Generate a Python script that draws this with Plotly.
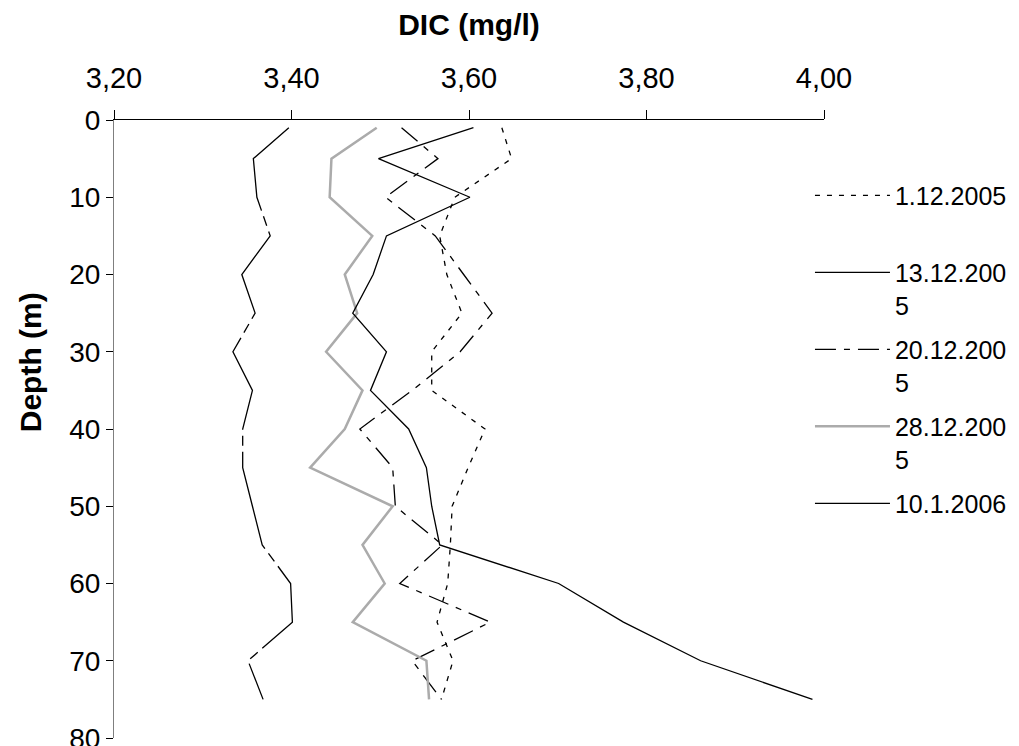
import plotly.graph_objects as go

depth = [1, 5, 10, 15, 20, 25, 30, 35, 40, 45, 50, 55, 60, 65, 70, 75]

dic_01_12_2005 = [3.637, 3.648, 3.584, 3.567, 3.575, 3.592, 3.558, 3.558,
                  3.618, 3.599, 3.581, 3.579, 3.576, 3.564, 3.582, 3.569]
dic_13_12_2005 = [3.397, 3.357, 3.361, 3.376, 3.344, 3.359, 3.334, 3.356,
                  3.345, 3.345, 3.356, 3.367, 3.399, 3.401, 3.351, 3.368]
dic_20_12_2005 = [3.524, 3.565, 3.506, 3.562, 3.594, 3.626, 3.590, 3.536,
                  3.477, 3.514, 3.517, 3.570, 3.522, 3.624, 3.536, 3.569]
dic_28_12_2005 = [3.496, 3.445, 3.443, 3.491, 3.460, 3.474, 3.439, 3.480,
                  3.460, 3.421, 3.514, 3.480, 3.505, 3.469, 3.552, 3.555]
dic_10_01_2006 = [3.605, 3.498, 3.601, 3.507, 3.492, 3.469, 3.507, 3.489,
                  3.532, 3.552, 3.558, 3.567, 3.701, 3.774, 3.861, 3.987]

series_names = ["1.12.2005\u00a0<br>\u00a0", "13.12.200<br>5", "20.12.200<br>5",
                "28.12.200<br>5", "10.1.2006"]
x_ticks = [3.2, 3.4, 3.6, 3.8, 4.0]
y_ticks = [0, 10, 20, 30, 40, 50, 60, 70, 80]

FONT = "Liberation Sans, Arial, sans-serif"

styles = [
    dict(color="black", width=1.3, dash="5px,7px"),
    dict(color="black", width=1.3, dash="100px,6px,10px,6px"),
    dict(color="black", width=1.3, dash="21px,8px,6px,8px"),
    dict(color="#ababab", width=2.5, dash="solid"),
    dict(color="black", width=1.3, dash="solid"),
]
series = [dic_01_12_2005, dic_13_12_2005, dic_20_12_2005, dic_28_12_2005, dic_10_01_2006]

fig = go.Figure()
for i, (name, vals, st) in enumerate(zip(series_names, series, styles)):
    fig.add_trace(go.Scatter(
        x=vals, y=depth, mode="lines", name=name, line=st,
        legendgroup=f"g{i}",
    ))

# the page body adds an 8px offset, so the figure is 8px smaller and margins shifted
fig.update_layout(
    width=1011, height=738,
    margin=dict(l=106, r=195, t=112, b=8, autoexpand=False),
    paper_bgcolor="white", plot_bgcolor="white",
    separators=", ",
    font=dict(family=FONT, size=27, color="black"),
    showlegend=True,
    legend=dict(
        x=1.2746, xanchor="right", y=0.915, yanchor="top",
        font=dict(family=FONT, size=25, color="black"),
        itemwidth=75, valign="top", tracegroupgap=9,
        bgcolor="rgba(0,0,0,0)", borderwidth=0,
    ),
    xaxis=dict(
        side="top", range=[3.2, 4.0], tickvals=x_ticks, tickformat=".2f",
        ticks="outside", ticklen=9, tickwidth=1, tickcolor="black",
        showline=True, linecolor="black", linewidth=1, automargin=False,
        showgrid=False, zeroline=False, ticklabelstandoff=10,
        tickfont=dict(family=FONT, size=29),
        title=dict(text="<b>DIC (mg/l)</b>", font=dict(family=FONT, size=30), standoff=17),
    ),
    yaxis=dict(
        range=[80, 0], tickvals=y_ticks, automargin=False,
        ticks="outside", ticklen=7, tickwidth=1, tickcolor="black",
        showline=True, linecolor="#7f7f7f", linewidth=1,
        showgrid=False, zeroline=False, ticklabeloverflow="allow",
        tickfont=dict(family=FONT, size=28),
    ),
    annotations=[dict(
        text="<b>Depth (m)</b>", textangle=-90, xref="paper", yref="paper",
        x=-0.1183, y=0.608, xanchor="center", yanchor="middle", showarrow=False,
        font=dict(family=FONT, size=30),
    )],
)

fig.write_html("out.html")
